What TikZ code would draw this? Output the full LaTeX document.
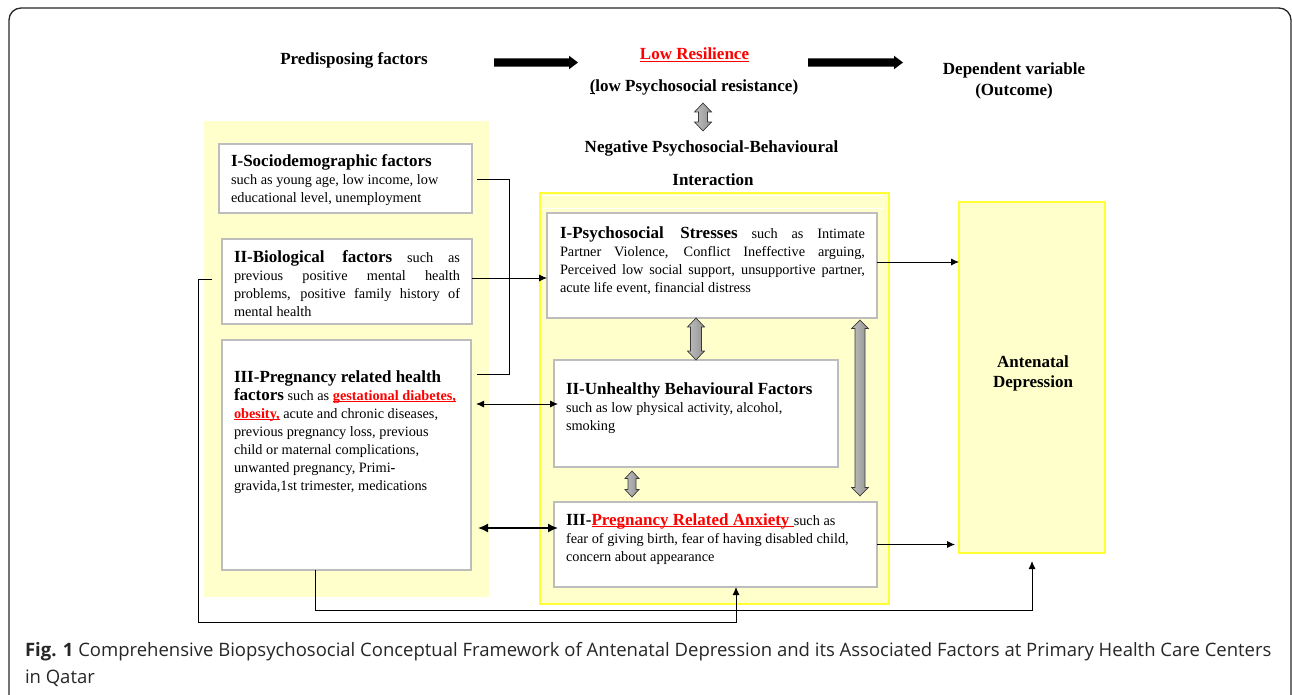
\documentclass[tikz,border=0pt]{standalone}
\usepackage{fontspec}
\setmainfont{Liberation Serif}
\newfontfamily\capfont{Open Sans}
\usetikzlibrary{arrows.meta,calc}
\definecolor{ylw}{HTML}{FFFFCC}
\definecolor{ybd}{HTML}{FFFF33}
\definecolor{bxg}{HTML}{BDBDBD}
\definecolor{rd}{HTML}{FF0000}
\newcommand\myul[1]{\leavevmode\setbox0\hbox{#1}\rlap{\rule[-2.3pt]{\wd0}{1pt}}\box0}
\newcommand\hd[1]{{\fontsize{17}{18}\selectfont\bfseries #1}}
\newcommand\rdu[1]{\textcolor{rd}{\myul{#1}}}
\newcommand\bt[2]{\parbox[t]{#1pt}{\fontsize{14.3}{18}\selectfont #2}}
\newcommand\grayarr[5]{%
  \shadedraw[garr] let \p1=(#1), \p2=(#2) in
  (\x1,\y1) -- (\x1+#4pt,\y1-#5pt) -- (\x1+#3pt,\y1-#5pt) -- (\x2+#3pt,\y2+#5pt)
  -- (\x2+#4pt,\y2+#5pt) -- (\x2,\y2) -- (\x2-#4pt,\y2+#5pt) -- (\x2-#3pt,\y2+#5pt)
  -- (\x1-#3pt,\y1-#5pt) -- (\x1-#4pt,\y1-#5pt) -- cycle;}
\newcommand\blkarr[2]{%
  \fill let \p1=(#1), \p2=(#2) in
  (\x1,\y1+4.2pt) -- (\x2-9pt,\y1+4.2pt) -- (\x2-9pt,\y1+6.8pt) -- (\x2,\y1)
  -- (\x2-9pt,\y1-6.8pt) -- (\x2-9pt,\y1-4.2pt) -- (\x1,\y1-4.2pt) -- cycle;}
\begin{document}
\begin{tikzpicture}[x=1pt,y=-1pt,
  every node/.style={inner sep=0pt, outer sep=0pt},
  panel/.style={fill=ylw, anchor=north west},
  bx/.style={draw=bxg, fill=white, line width=1.5pt, anchor=north west},
  tt/.style={font=\fontsize{17}{21}\selectfont\bfseries, anchor=base},
  conn/.style={draw=black, line width=0.9pt},
  tip/.style={-{Latex[length=8pt,width=7pt]}},
  garr/.style={draw=gray!45!black, line width=0.7pt, left color=gray!50, right color=gray!85}]
\useasboundingbox (0,0) rectangle (1292,695);
\draw[line width=1.3pt, black!85, rounded corners=12pt] (9,8) rectangle (1291,720);

% panels
\node[panel, minimum width=285pt, minimum height=476pt] (lpanel) at (204,121) {};
\node[panel, draw=ybd, line width=2pt, minimum width=349pt, minimum height=411pt] (mpanel) at (540,193) {};
\draw[white, line width=0.8pt] (541.5,195) rectangle (883,208);
\node[panel, draw=ybd, line width=2pt, minimum width=146pt, minimum height=351pt] (dep) at (959,202) {};

% boxes
\node[bx, minimum width=253pt, minimum height=69pt] (socio) at (219,144) {};
\node[bx, minimum width=250pt, minimum height=85pt] (bio) at (222,239) {};
\node[bx, minimum width=249pt, minimum height=230pt] (preg) at (222,340) {};
\node[bx, minimum width=330pt, minimum height=105pt] (psy) at (547,213) {};
\node[bx, minimum width=284pt, minimum height=107pt] (beh) at (554,360) {};
\node[bx, minimum width=323pt, minimum height=85pt] (anx) at (554,502) {};

% box texts
\node[anchor=base west] (sociot) at (231,167) {\bt{236}{\raggedright\hd{I-Sociodemographic factors}\\ such as young age, low income, low\\ educational level, unemployment}};
\node[anchor=base west] (biot) at (234,262) {\bt{226}{\hd{II-Biological factors} such as\linebreak previous positive mental health\linebreak problems, positive family history of\linebreak mental health}};
\node[anchor=base west] (pregt) at (234,382) {\bt{232}{\raggedright\hd{III-Pregnancy related health}\\ \hd{factors} such as \textbf{\rdu{gestational diabetes,}}\\ \textbf{\rdu{obesity,}} acute and chronic diseases,\\ previous pregnancy loss, previous\\ child or maternal complications,\\ unwanted pregnancy, Primi\textbf{-}\\ gravida,1st trimester, medications}};
\node[anchor=base west] (psyt) at (560,238) {\bt{305}{\hd{I-Psychosocial Stresses} such as Intimate\linebreak Partner Violence, Conflict Ineffective arguing,\linebreak Perceived low social support, unsupportive partner,\linebreak acute life event, financial distress}};
\node[anchor=base west] (beht) at (566,394) {\bt{268}{\raggedright\hd{II-Unhealthy Behavioural Factors}\\ such as low physical activity, alcohol,\\ smoking}};
\node[anchor=base west] (anxt) at (566,525) {\bt{305}{\raggedright\hd{III-\rdu{Pregnancy Related Anxiety\ }}such as\\ fear of giving birth, fear of having disabled child,\\ concern about appearance}};
\node[tt] (dept) at (1033,367) {\begin{tabular}[t]{@{}c@{}}Antenatal\\[-1pt]Depression\end{tabular}};

% top texts
\node[tt] (pred) at (354,65) {Predisposing factors};
\node[tt, text=rd] (lowres) at (694.5,59.3) {\myul{Low Resilience}};
\node[tt] (lowps) at (694,91.7) {\myul{(}low Psychosocial resistance)};
\node[tt] (neg) at (711.5,152.7) {Negative Psychosocial-Behavioural};
\node[tt] (inter) at (713,185.7) {Interaction};
\node[tt] (depvar) at (1014,75) {\begin{tabular}[t]{@{}c@{}}Dependent variable\\(Outcome)\end{tabular}};

% black arrows
\coordinate (a1) at (494,62.5); \coordinate (a2) at (578,62.5);
\coordinate (a3) at (808,62.5); \coordinate (a4) at (903,62.5);
\blkarr{a1}{a2}
\blkarr{a3}{a4}

% gray double arrows
\grayarr{703,103}{703,131}{4.5}{8.5}{9}
\grayarr{psy.south -| 696,0}{beh.north -| 696,0}{5.5}{8.5}{9}
\grayarr{632,471}{632,497}{4}{7}{7.5}
\grayarr{860,320}{860,496}{5}{8.3}{8.5}

% connectors
\coordinate (k1) at (477,179); \coordinate (k2) at (509,179); \coordinate (k3) at (477,374);
\draw[conn] (k1) -- (k2) |- (k3);
\draw[conn,tip] (bio.east |- 0,278) -- (psy.west |- 0,278);
\draw[conn,tip] (psy.east |- 0,262) -- (dep.west |- 0,262);
\draw[conn,tip,shorten >=4pt] (anx.east) -- (anx.east -| dep.west);
\draw[conn,{Latex[length=8pt,width=7pt]}-{Latex[length=8pt,width=7pt]}, shorten <=5pt, shorten >=-4pt] (preg.east |- 0,404) -- (beh.west |- 0,404);
\draw[line width=1.5pt,{Latex[length=10pt,width=9pt]}-{Latex[length=10pt,width=9pt]}, shorten <=7pt, shorten >=-4pt] (preg.east |- 0,528) -- (anx.west |- 0,528);
\coordinate (c1) at (315,610);
\draw[conn,tip] (preg.south -| c1) -- (c1) -| ([yshift=-8pt]dep.south);
\coordinate (c0) at (212,279); \coordinate (c2) at (198,622); \coordinate (c3) at (736,622);
\draw[conn,tip] (c0) -| (c2) -- (c3) -- (c3 |- anx.south);

% caption
\node[anchor=base west, font=\capfont\fontsize{18.5}{27}\selectfont, text=black!85] (cap) at (25,656)
 {\begin{tabular}[t]{@{}l@{}}\textbf{Fig. 1} Comprehensive Biopsychosocial Conceptual Framework of Antenatal Depression and its Associated Factors at Primary Health Care Centers\\in Qatar\end{tabular}};
\end{tikzpicture}
\end{document}
